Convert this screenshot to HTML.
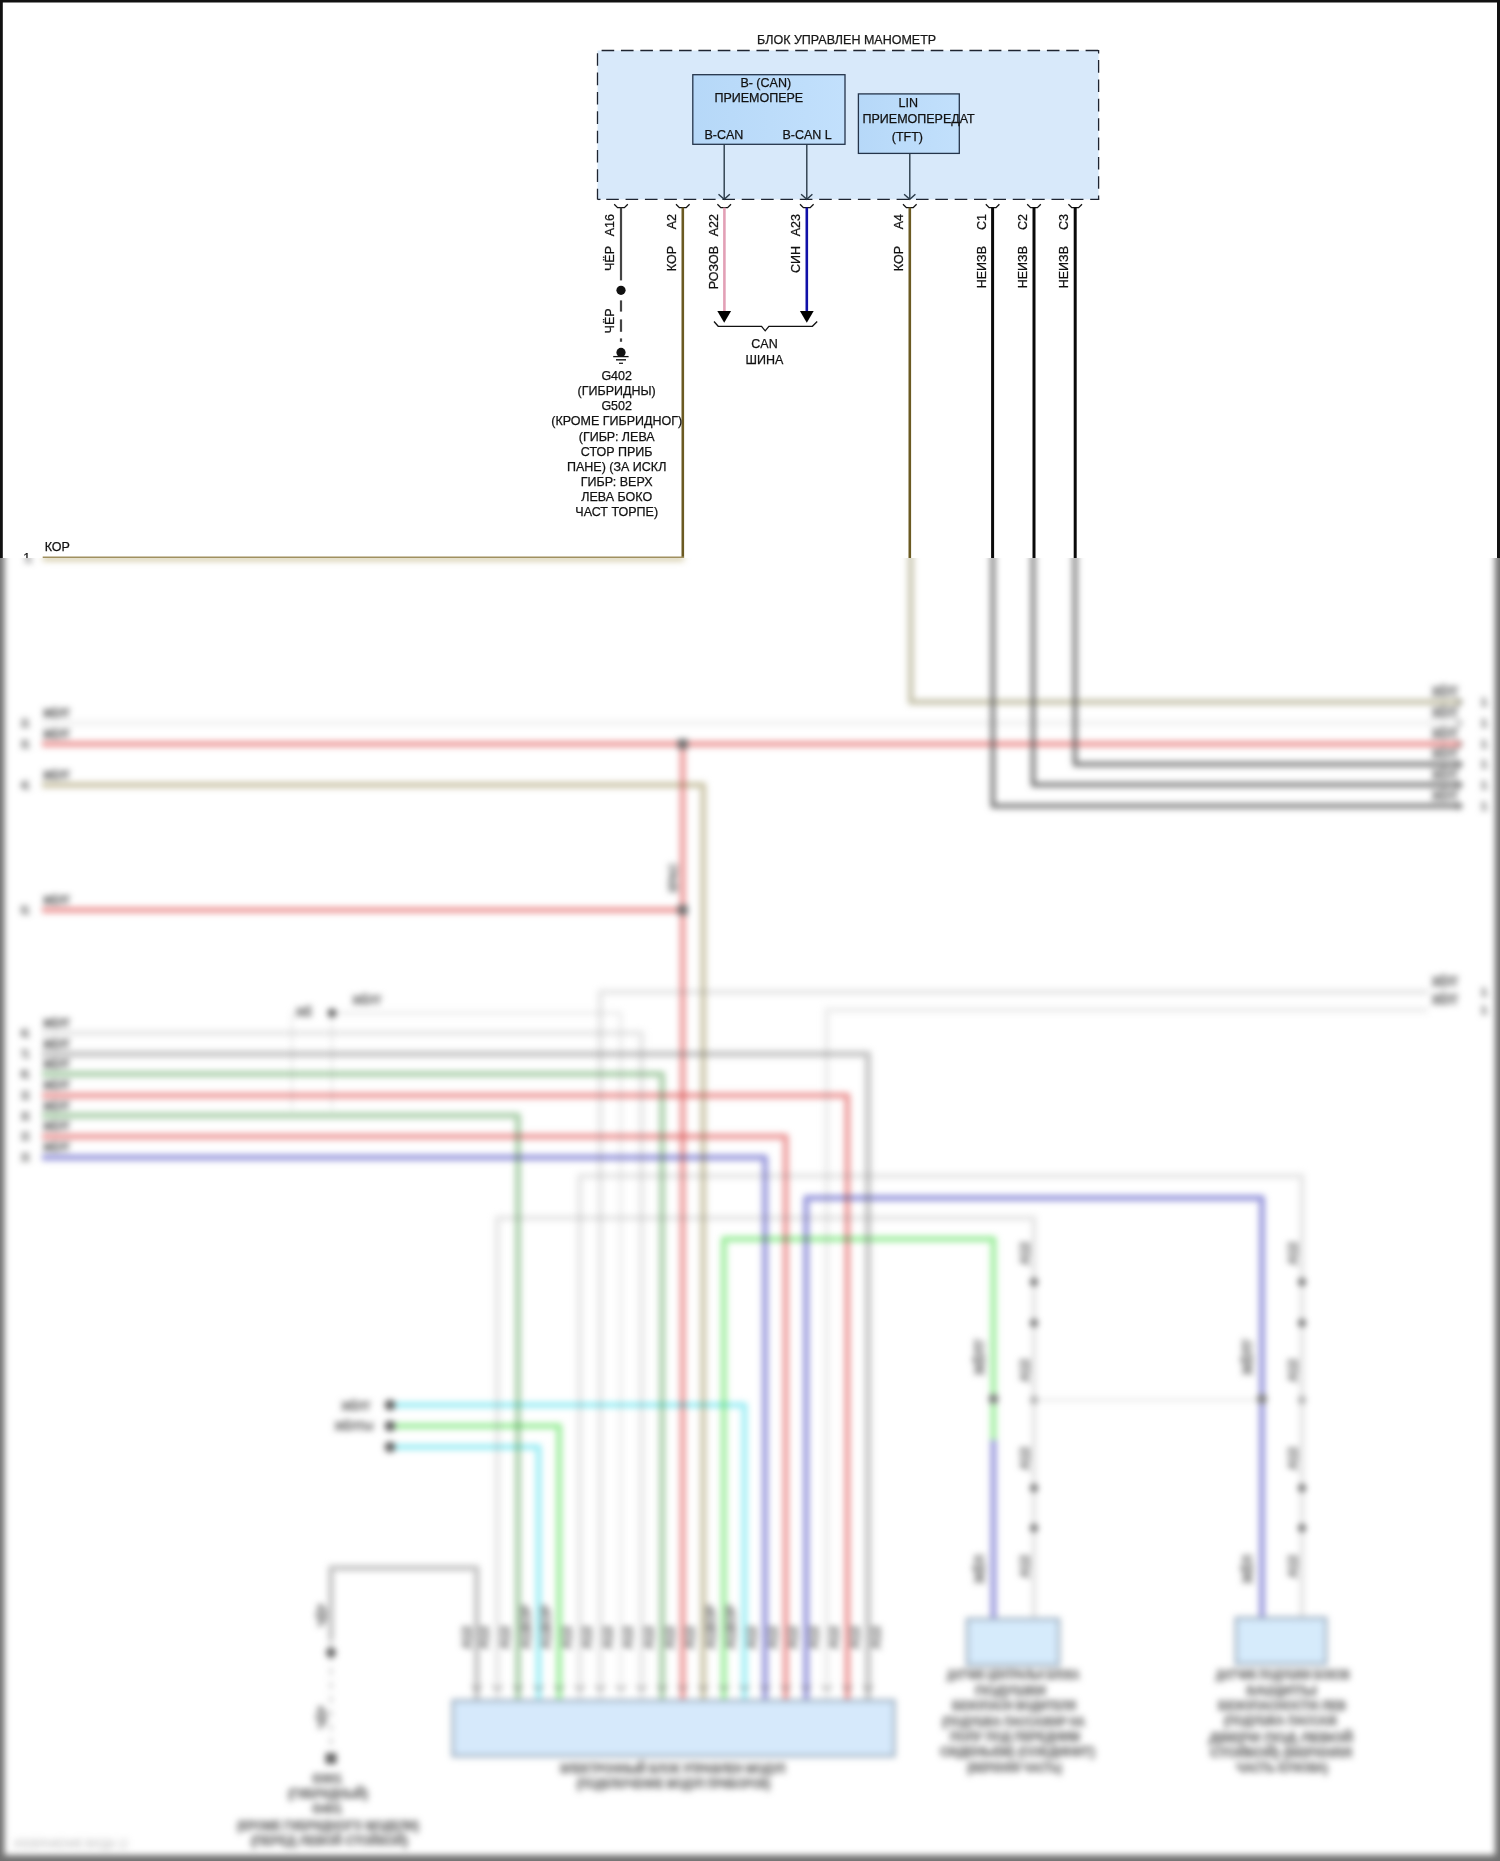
<!DOCTYPE html>
<html><head><meta charset="utf-8">
<style>
html,body{margin:0;padding:0;background:#fff;}
body{width:1500px;height:1861px;overflow:hidden;position:relative;font-family:"Liberation Sans",sans-serif;}
svg{position:absolute;left:0;top:0;will-change:transform;}
#bot{position:absolute;left:0;top:558px;width:1500px;height:1303px;overflow:hidden;}
#botin{position:absolute;left:-40px;top:-598px;width:1580px;height:1941px;filter:blur(3.2px);}
#wash{position:absolute;left:0;top:0;width:1500px;height:1303px;background:rgba(255,255,255,0.3);}
</style></head><body>
<svg class="tp" width="1500" height="558" viewBox="0 0 1500 558" style="font-family:'Liberation Sans',sans-serif;font-size:12.5px;">
<style>.tp text{stroke:#111;stroke-width:0.25px;}</style>
<defs>
<linearGradient id="gbox" x1="0" y1="0" x2="1" y2="0">
<stop offset="0" stop-color="#b6d8f8"/><stop offset="1" stop-color="#c2e0fc"/>
</linearGradient>
</defs>
<!-- borders -->
<rect x="0" y="0" width="1500" height="2.5" fill="#111"/>
<rect x="0" y="0" width="2.8" height="558" fill="#111"/>
<rect x="1497" y="0" width="3" height="558" fill="#111"/>

<text x="757" y="44" fill="#1a1a1a">БЛОК УПРАВЛЕН МАНОМЕТР</text>
<!-- dashed module box -->
<rect x="597.5" y="50.5" width="501.1" height="148.9" fill="#d8e9fa"/>
<g stroke="#1e2430" stroke-width="1.3" stroke-dasharray="12.6 6.76" fill="none">
<line x1="601.6" y1="50.5" x2="1099.2" y2="50.5"/>
<line x1="597.5" y1="53.2" x2="597.5" y2="199.4"/>
<line x1="606.2" y1="199.4" x2="1099.2" y2="199.4"/>
<line x1="1098.6" y1="60.1" x2="1098.6" y2="199.4"/>
</g>
<line x1="1098.6" y1="50" x2="1098.6" y2="53.5" stroke="#1e2430" stroke-width="1.3"/>
<line x1="597.5" y1="199.4" x2="600.5" y2="199.4" stroke="#1e2430" stroke-width="1.3"/>
<!-- CAN box -->
<rect x="692.8" y="74.7" width="152.2" height="69.6" fill="url(#gbox)" stroke="#24344a" stroke-width="1.3"/>
<text x="740.4" y="87.1" fill="#111">B- (CAN)</text>
<text x="714.4" y="102.4" fill="#111">ПРИЕМОПЕРЕ</text>
<text x="704.4" y="138.8" fill="#111">B-CAN</text>
<text x="782.4" y="138.8" fill="#111">B-CAN L</text>
<!-- LIN box -->
<rect x="858.4" y="93.9" width="100.9" height="59.5" fill="url(#gbox)" stroke="#24344a" stroke-width="1.3"/>
<text x="898.5" y="107" fill="#111">LIN</text>
<text x="862.5" y="123.2" fill="#111">ПРИЕМОПЕРЕДАТ</text>
<text x="891.8" y="140.6" fill="#111">(TFT)</text>
<!-- internal arrows -->
<g stroke="#2a3a48" stroke-width="1.4" fill="none">
<line x1="724.2" y1="144.3" x2="724.2" y2="199"/>
<polyline points="718.5,194.2 724.2,199.3 729.8,194.2"/>
<line x1="806.8" y1="144.3" x2="806.8" y2="199"/>
<polyline points="801.1,194.2 806.8,199.3 812.4,194.2"/>
<line x1="909.8" y1="153.4" x2="909.8" y2="199"/>
<polyline points="904.1,194.2 909.8,199.3 915.4,194.2"/>
</g>
<!-- cups -->
<g stroke="#111" stroke-width="1.3" fill="none">
<path d="M614.2 204.2 L617.6 207.6 L624.4 207.6 L627.8 204.2"/>
<path d="M676 204.2 L679.4 207.6 L686.2 207.6 L689.6 204.2"/>
<path d="M717.4 204.2 L720.8 207.6 L727.6 207.6 L731 204.2"/>
<path d="M800 204.2 L803.4 207.6 L810.2 207.6 L813.6 204.2"/>
<path d="M903 204.2 L906.4 207.6 L913.2 207.6 L916.6 204.2"/>
<path d="M985.8 204.2 L989.2 207.6 L996 207.6 L999.4 204.2"/>
<path d="M1027.2 204.2 L1030.6 207.6 L1037.4 207.6 L1040.8 204.2"/>
<path d="M1068.4 204.2 L1071.8 207.6 L1078.6 207.6 L1082 204.2"/>
</g>
<!-- wires -->
<line x1="621" y1="207.6" x2="621" y2="280.4" stroke="#444" stroke-width="2.2"/>
<circle cx="621" cy="290.3" r="4.6" fill="#111"/>
<g stroke="#444" stroke-width="2.2">
<line x1="621" y1="300.4" x2="621" y2="311.6"/>
<line x1="621" y1="319.4" x2="621" y2="331.8"/>
<line x1="621" y1="338.4" x2="621" y2="341.8"/>
</g>
<circle cx="621" cy="352.4" r="4.6" fill="#111"/>
<line x1="613.2" y1="356.6" x2="628.6" y2="356.6" stroke="#111" stroke-width="1.3"/>
<line x1="616" y1="359.8" x2="626" y2="359.8" stroke="#222" stroke-width="1.5"/>
<line x1="619" y1="363.3" x2="623" y2="363.3" stroke="#222" stroke-width="1.3"/>
<line x1="682.8" y1="207.6" x2="682.8" y2="558" stroke="#6b5a22" stroke-width="2.6"/>
<line x1="724.4" y1="207.6" x2="724.4" y2="312" stroke="#e2a0b6" stroke-width="2.6"/>
<line x1="806.8" y1="207.6" x2="806.8" y2="312" stroke="#1010a8" stroke-width="2.6"/>
<line x1="909.8" y1="207.6" x2="909.8" y2="558" stroke="#6b5a22" stroke-width="2.6"/>
<line x1="992.6" y1="207.6" x2="992.6" y2="558" stroke="#0a0a0a" stroke-width="3"/>
<line x1="1034" y1="207.6" x2="1034" y2="558" stroke="#0a0a0a" stroke-width="3"/>
<line x1="1075.2" y1="207.6" x2="1075.2" y2="558" stroke="#0a0a0a" stroke-width="3"/>
<polygon points="717.3,311 731.1,311 724.2,322.8" fill="#000"/>
<polygon points="799.9,311 813.7,311 806.8,322.8" fill="#000"/>
<path d="M714 321.5 L718.2 326.3 L761.5 326.3 L765.2 330.8 L768.9 326.3 L812.4 326.3 L817.2 321.5" stroke="#111" stroke-width="1.3" fill="none"/>
<text x="764.5" y="348.4" text-anchor="middle" fill="#111">CAN</text>
<text x="764.5" y="363.6" text-anchor="middle" fill="#111">ШИНА</text>
<!-- rotated labels -->
<g fill="#111" text-anchor="end">
<text transform="translate(614,214) rotate(-90)">A16</text>
<text transform="translate(614,246) rotate(-90)">ЧЁР</text>
<text transform="translate(614,308.4) rotate(-90)">ЧЁР</text>
<text transform="translate(676.4,214) rotate(-90)">A2</text>
<text transform="translate(676.4,246) rotate(-90)">КОР</text>
<text transform="translate(718,214) rotate(-90)">A22</text>
<text transform="translate(718,246) rotate(-90)">РОЗОВ</text>
<text transform="translate(800.4,214) rotate(-90)">A23</text>
<text transform="translate(800.4,246) rotate(-90)">СИН</text>
<text transform="translate(903.4,214) rotate(-90)">A4</text>
<text transform="translate(903.4,246) rotate(-90)">КОР</text>
<text transform="translate(986.2,214) rotate(-90)">C1</text>
<text transform="translate(986.2,246) rotate(-90)">НЕИЗВ</text>
<text transform="translate(1027.2,214) rotate(-90)">C2</text>
<text transform="translate(1027.2,246) rotate(-90)">НЕИЗВ</text>
<text transform="translate(1068,214) rotate(-90)">C3</text>
<text transform="translate(1068,246) rotate(-90)">НЕИЗВ</text>
</g>
<!-- ground label -->
<g fill="#111" text-anchor="middle">
<text x="616.7" y="380">G402</text>
<text x="616.7" y="395.1">(ГИБРИДНЫ)</text>
<text x="616.7" y="410.3">G502</text>
<text x="616.7" y="425.4">(КРОМЕ ГИБРИДНОГ)</text>
<text x="616.7" y="440.6">(ГИБР: ЛЕВА</text>
<text x="616.7" y="455.7">СТОР ПРИБ</text>
<text x="616.7" y="470.8">ПАНЕ) (ЗА ИСКЛ</text>
<text x="616.7" y="486">ГИБР: ВЕРХ</text>
<text x="616.7" y="501.1">ЛЕВА БОКО</text>
<text x="616.7" y="516.3">ЧАСТ ТОРПЕ)</text>
</g>
<text x="44.7" y="551.3" fill="#111">КОР</text>
<text x="23.2" y="562" fill="#111">1</text>
<line x1="42.7" y1="557.3" x2="684" y2="557.3" stroke="#a09060" stroke-width="1.6"/>
</svg>
<div id="bot"><div id="botin">
<svg width="1580" height="1941" viewBox="-40 -40 1580 1941" style="font-family:'Liberation Sans',sans-serif;font-size:12.5px;">

<rect x="-40.0" y="530.0" width="44.5" height="1400.0" fill="#333"/>
<rect x="1495.0" y="530.0" width="45.0" height="1400.0" fill="#333"/>
<rect x="-40.0" y="1855.0" width="1600.0" height="60.0" fill="#333"/>
<path d="M42.7 558.5 L684.0 558.5" stroke="#b0a060" stroke-width="4" fill="none" stroke-linejoin="round" style="mix-blend-mode:multiply"/>
<path d="M42.0 723.0 L1462.0 723.0" stroke="#eeeeee" stroke-width="6" fill="none" stroke-linejoin="round" style="mix-blend-mode:multiply"/>
<path d="M42.0 744.0 L1462.0 744.0" stroke="#e67272" stroke-width="6" fill="none" stroke-linejoin="round" style="mix-blend-mode:multiply"/>
<path d="M42.0 785.0 L703.3 785.0 L703.3 1700.0" stroke="#b8b088" stroke-width="6" fill="none" stroke-linejoin="round" style="mix-blend-mode:multiply"/>
<path d="M42.0 910.0 L682.7 910.0" stroke="#e67272" stroke-width="6" fill="none" stroke-linejoin="round" style="mix-blend-mode:multiply"/>
<path d="M682.7 744.0 L682.7 1700.0" stroke="#e67272" stroke-width="6" fill="none" stroke-linejoin="round" style="mix-blend-mode:multiply"/>
<rect x="677.7" y="739.0" width="10.0" height="10.0" fill="#333"/>
<rect x="677.7" y="905.0" width="10.0" height="10.0" fill="#333"/>
<path d="M42.0 1033.0 L641.5 1033.0 L641.5 1700.0" stroke="#dfdfdf" stroke-width="6" fill="none" stroke-linejoin="round" style="mix-blend-mode:multiply"/>
<path d="M42.0 1054.0 L868.0 1054.0 L868.0 1700.0" stroke="#b0b0b0" stroke-width="6.5" fill="none" stroke-linejoin="round" style="mix-blend-mode:multiply"/>
<path d="M42.0 1074.0 L662.1 1074.0 L662.1 1700.0" stroke="#89bc89" stroke-width="6" fill="none" stroke-linejoin="round" style="mix-blend-mode:multiply"/>
<path d="M42.0 1095.5 L847.4 1095.5 L847.4 1700.0" stroke="#e67272" stroke-width="6" fill="none" stroke-linejoin="round" style="mix-blend-mode:multiply"/>
<path d="M42.0 1115.5 L518.0 1115.5 L518.0 1700.0" stroke="#89bc89" stroke-width="6" fill="none" stroke-linejoin="round" style="mix-blend-mode:multiply"/>
<path d="M42.0 1136.5 L785.7 1136.5 L785.7 1700.0" stroke="#e67272" stroke-width="6" fill="none" stroke-linejoin="round" style="mix-blend-mode:multiply"/>
<path d="M42.0 1157.5 L765.1 1157.5 L765.1 1700.0" stroke="#6f6fce" stroke-width="6" fill="none" stroke-linejoin="round" style="mix-blend-mode:multiply"/>
<path d="M910.8 540.0 L910.8 702.0 L1462.0 702.0" stroke="#b4b090" stroke-width="6" fill="none" stroke-linejoin="round" style="mix-blend-mode:multiply"/>
<path d="M1075.0 540.0 L1075.0 764.3 L1462.0 764.3" stroke="#4a4a4a" stroke-width="5" fill="none" stroke-linejoin="round" style="mix-blend-mode:multiply"/>
<path d="M1033.2 540.0 L1033.2 784.8 L1462.0 784.8" stroke="#4a4a4a" stroke-width="5" fill="none" stroke-linejoin="round" style="mix-blend-mode:multiply"/>
<path d="M992.9 540.0 L992.9 806.0 L1462.0 806.0" stroke="#4a4a4a" stroke-width="5" fill="none" stroke-linejoin="round" style="mix-blend-mode:multiply"/>
<path d="M1428.0 992.0 L600.3 992.0 L600.3 1700.0" stroke="#dfdfdf" stroke-width="6" fill="none" stroke-linejoin="round" style="mix-blend-mode:multiply"/>
<path d="M1428.0 1010.0 L826.8 1010.0 L826.8 1700.0" stroke="#e8e8e8" stroke-width="6" fill="none" stroke-linejoin="round" style="mix-blend-mode:multiply"/>
<circle cx="332.0" cy="1013.0" r="4.5" fill="#222"/>
<path d="M332.0 1013.0 L620.9 1013.0 L620.9 1700.0" stroke="#dfdfdf" stroke-width="3" fill="none" stroke-linejoin="round" style="mix-blend-mode:multiply"/>
<path d="M292.0 1013.0 L292.0 1110.0" stroke="#dfdfdf" stroke-width="2" fill="none" stroke-linejoin="round" style="mix-blend-mode:multiply"/>
<path d="M332.0 1013.0 L332.0 1110.0" stroke="#dfdfdf" stroke-width="2" fill="none" stroke-linejoin="round" style="mix-blend-mode:multiply"/>
<path d="M292.0 1013.0 L312.0 1013.0" stroke="#dfdfdf" stroke-width="2" fill="none" stroke-linejoin="round" style="mix-blend-mode:multiply"/>
<path d="M579.8 1700.0 L579.8 1176.0 L1302.0 1176.0 L1302.0 1618.0" stroke="#dfdfdf" stroke-width="6" fill="none" stroke-linejoin="round" style="mix-blend-mode:multiply"/>
<path d="M806.2 1700.0 L806.2 1198.0 L1262.0 1198.0 L1262.0 1618.0" stroke="#6f6fce" stroke-width="6" fill="none" stroke-linejoin="round" style="mix-blend-mode:multiply"/>
<path d="M497.4 1700.0 L497.4 1218.0 L1034.0 1218.0 L1034.0 1618.0" stroke="#dfdfdf" stroke-width="6" fill="none" stroke-linejoin="round" style="mix-blend-mode:multiply"/>
<path d="M723.9 1700.0 L723.9 1239.0 L993.5 1239.0 L993.5 1440.0" stroke="#78e778" stroke-width="6" fill="none" stroke-linejoin="round" style="mix-blend-mode:multiply"/>
<path d="M993.5 1440.0 L993.5 1618.0" stroke="#6f6fce" stroke-width="6" fill="none" stroke-linejoin="round" style="mix-blend-mode:multiply"/>
<path d="M1034.0 1400.0 L1262.0 1400.0" stroke="#dfdfdf" stroke-width="3" fill="none" stroke-linejoin="round" style="mix-blend-mode:multiply"/>
<path d="M390.0 1405.0 L744.5 1405.0 L744.5 1700.0" stroke="#78e7f0" stroke-width="6" fill="none" stroke-linejoin="round" style="mix-blend-mode:multiply"/>
<path d="M390.0 1426.0 L559.2 1426.0 L559.2 1700.0" stroke="#78e778" stroke-width="6" fill="none" stroke-linejoin="round" style="mix-blend-mode:multiply"/>
<path d="M390.0 1447.0 L538.6 1447.0 L538.6 1700.0" stroke="#78e7f0" stroke-width="6" fill="none" stroke-linejoin="round" style="mix-blend-mode:multiply"/>
<circle cx="390.0" cy="1405.0" r="5.5" fill="#222"/>
<circle cx="390.0" cy="1426.0" r="5.5" fill="#222"/>
<circle cx="390.0" cy="1447.0" r="5.5" fill="#222"/>
<path d="M331.0 1640.0 L331.0 1568.0 L476.8 1568.0 L476.8 1700.0" stroke="#b0b0b0" stroke-width="6" fill="none" stroke-linejoin="round" style="mix-blend-mode:multiply"/>
<path d="M331.0 1640.0 L331.0 1750.0" stroke="#b0b0b0" stroke-width="2.5" fill="none" stroke-linejoin="round" style="mix-blend-mode:multiply" stroke-dasharray="7 7"/>
<circle cx="331.0" cy="1652.6" r="5" fill="#222"/>
<rect x="325.5" y="1753.0" width="11.0" height="11.0" fill="#222"/>
<text x="21.0" y="727.0" textLength="8.5" lengthAdjust="spacingAndGlyphs" font-size="10.5" fill="#000" stroke="#000" stroke-width="0.6">21</text>
<text x="43.0" y="717.0" textLength="27.0" lengthAdjust="spacingAndGlyphs" font-size="10.5" fill="#000" stroke="#000" stroke-width="0.7">ЖЁЛТ</text>
<text x="21.0" y="748.0" textLength="8.5" lengthAdjust="spacingAndGlyphs" font-size="10.5" fill="#000" stroke="#000" stroke-width="0.6">31</text>
<text x="43.0" y="738.0" textLength="27.0" lengthAdjust="spacingAndGlyphs" font-size="10.5" fill="#000" stroke="#000" stroke-width="0.7">ЖЁЛТ</text>
<text x="21.0" y="789.0" textLength="8.5" lengthAdjust="spacingAndGlyphs" font-size="10.5" fill="#000" stroke="#000" stroke-width="0.6">41</text>
<text x="43.0" y="779.0" textLength="27.0" lengthAdjust="spacingAndGlyphs" font-size="10.5" fill="#000" stroke="#000" stroke-width="0.7">ЖЁЛТ</text>
<text x="21.0" y="914.0" textLength="8.5" lengthAdjust="spacingAndGlyphs" font-size="10.5" fill="#000" stroke="#000" stroke-width="0.6">51</text>
<text x="43.0" y="904.0" textLength="27.0" lengthAdjust="spacingAndGlyphs" font-size="10.5" fill="#000" stroke="#000" stroke-width="0.7">ЖЁЛТ</text>
<text x="21.0" y="1037.0" textLength="8.5" lengthAdjust="spacingAndGlyphs" font-size="10.5" fill="#000" stroke="#000" stroke-width="0.6">61</text>
<text x="43.0" y="1027.0" textLength="27.0" lengthAdjust="spacingAndGlyphs" font-size="10.5" fill="#000" stroke="#000" stroke-width="0.7">ЖЁЛТ</text>
<text x="21.0" y="1058.0" textLength="8.5" lengthAdjust="spacingAndGlyphs" font-size="10.5" fill="#000" stroke="#000" stroke-width="0.6">71</text>
<text x="43.0" y="1048.0" textLength="27.0" lengthAdjust="spacingAndGlyphs" font-size="10.5" fill="#000" stroke="#000" stroke-width="0.7">ЖЁЛТ</text>
<text x="21.0" y="1078.0" textLength="8.5" lengthAdjust="spacingAndGlyphs" font-size="10.5" fill="#000" stroke="#000" stroke-width="0.6">81</text>
<text x="43.0" y="1068.0" textLength="27.0" lengthAdjust="spacingAndGlyphs" font-size="10.5" fill="#000" stroke="#000" stroke-width="0.7">ЖЁЛТ</text>
<text x="21.0" y="1099.0" textLength="8.5" lengthAdjust="spacingAndGlyphs" font-size="10.5" fill="#000" stroke="#000" stroke-width="0.6">111</text>
<text x="43.0" y="1089.0" textLength="27.0" lengthAdjust="spacingAndGlyphs" font-size="10.5" fill="#000" stroke="#000" stroke-width="0.7">ЖЁЛТ</text>
<text x="21.0" y="1120.0" textLength="8.5" lengthAdjust="spacingAndGlyphs" font-size="10.5" fill="#000" stroke="#000" stroke-width="0.6">101</text>
<text x="43.0" y="1110.0" textLength="27.0" lengthAdjust="spacingAndGlyphs" font-size="10.5" fill="#000" stroke="#000" stroke-width="0.7">ЖЁЛТ</text>
<text x="21.0" y="1140.0" textLength="8.5" lengthAdjust="spacingAndGlyphs" font-size="10.5" fill="#000" stroke="#000" stroke-width="0.6">121</text>
<text x="43.0" y="1130.0" textLength="27.0" lengthAdjust="spacingAndGlyphs" font-size="10.5" fill="#000" stroke="#000" stroke-width="0.7">ЖЁЛТ</text>
<text x="21.0" y="1161.0" textLength="8.5" lengthAdjust="spacingAndGlyphs" font-size="10.5" fill="#000" stroke="#000" stroke-width="0.6">131</text>
<text x="43.0" y="1151.0" textLength="27.0" lengthAdjust="spacingAndGlyphs" font-size="10.5" fill="#000" stroke="#000" stroke-width="0.7">ЖЁЛТ</text>
<text x="24.7" y="562.0" text-anchor="start" font-size="12.5" fill="#666" font-weight="bold" stroke="#666" stroke-width="1.2">1</text>
<text x="1432.0" y="696.0" textLength="26.0" lengthAdjust="spacingAndGlyphs" font-size="12" fill="#666" font-weight="bold" stroke="#666" stroke-width="1.3">ЖЁЛТ</text>
<text x="1484.0" y="706.0" text-anchor="middle" font-size="11" fill="#666" font-weight="bold" stroke="#666" stroke-width="1.2">1</text>
<path d="M1456.0 698.0 L1462.0 702.0 L1456.0 706.0" stroke="#555" stroke-width="1.5" fill="none" stroke-linejoin="round" style="mix-blend-mode:multiply"/>
<text x="1432.0" y="717.0" textLength="26.0" lengthAdjust="spacingAndGlyphs" font-size="12" fill="#666" font-weight="bold" stroke="#666" stroke-width="1.3">ЖЁЛТ</text>
<text x="1484.0" y="727.0" text-anchor="middle" font-size="11" fill="#666" font-weight="bold" stroke="#666" stroke-width="1.2">1</text>
<path d="M1456.0 719.0 L1462.0 723.0 L1456.0 727.0" stroke="#555" stroke-width="1.5" fill="none" stroke-linejoin="round" style="mix-blend-mode:multiply"/>
<text x="1432.0" y="738.0" textLength="26.0" lengthAdjust="spacingAndGlyphs" font-size="12" fill="#666" font-weight="bold" stroke="#666" stroke-width="1.3">ЖЁЛТ</text>
<text x="1484.0" y="748.0" text-anchor="middle" font-size="11" fill="#666" font-weight="bold" stroke="#666" stroke-width="1.2">1</text>
<path d="M1456.0 740.0 L1462.0 744.0 L1456.0 748.0" stroke="#555" stroke-width="1.5" fill="none" stroke-linejoin="round" style="mix-blend-mode:multiply"/>
<text x="1432.0" y="758.3" textLength="26.0" lengthAdjust="spacingAndGlyphs" font-size="12" fill="#666" font-weight="bold" stroke="#666" stroke-width="1.3">ЖЁЛТ</text>
<text x="1484.0" y="768.3" text-anchor="middle" font-size="11" fill="#666" font-weight="bold" stroke="#666" stroke-width="1.2">1</text>
<path d="M1456.0 760.3 L1462.0 764.3 L1456.0 768.3" stroke="#555" stroke-width="1.5" fill="none" stroke-linejoin="round" style="mix-blend-mode:multiply"/>
<text x="1432.0" y="778.8" textLength="26.0" lengthAdjust="spacingAndGlyphs" font-size="12" fill="#666" font-weight="bold" stroke="#666" stroke-width="1.3">ЖЁЛТ</text>
<text x="1484.0" y="788.8" text-anchor="middle" font-size="11" fill="#666" font-weight="bold" stroke="#666" stroke-width="1.2">1</text>
<path d="M1456.0 780.8 L1462.0 784.8 L1456.0 788.8" stroke="#555" stroke-width="1.5" fill="none" stroke-linejoin="round" style="mix-blend-mode:multiply"/>
<text x="1432.0" y="800.0" textLength="26.0" lengthAdjust="spacingAndGlyphs" font-size="12" fill="#666" font-weight="bold" stroke="#666" stroke-width="1.3">ЖЁЛТ</text>
<text x="1484.0" y="810.0" text-anchor="middle" font-size="11" fill="#666" font-weight="bold" stroke="#666" stroke-width="1.2">1</text>
<path d="M1456.0 802.0 L1462.0 806.0 L1456.0 810.0" stroke="#555" stroke-width="1.5" fill="none" stroke-linejoin="round" style="mix-blend-mode:multiply"/>
<text x="1432.0" y="986.0" textLength="26.0" lengthAdjust="spacingAndGlyphs" font-size="12" fill="#666" font-weight="bold" stroke="#666" stroke-width="1.3">ЖЁЛТ</text>
<text x="1484.0" y="996.0" text-anchor="middle" font-size="11" fill="#666" font-weight="bold" stroke="#666" stroke-width="1.2">1</text>
<text x="1432.0" y="1004.0" textLength="26.0" lengthAdjust="spacingAndGlyphs" font-size="12" fill="#666" font-weight="bold" stroke="#666" stroke-width="1.3">ЖЁЛТ</text>
<text x="1484.0" y="1014.0" text-anchor="middle" font-size="11" fill="#666" font-weight="bold" stroke="#666" stroke-width="1.2">1</text>
<text x="367.0" y="1004.0" text-anchor="middle" font-size="10" fill="#666" font-weight="bold" stroke="#666" stroke-width="1.2">ЖЁЛТ</text>
<text x="304.0" y="1016.0" text-anchor="middle" font-size="10" fill="#888" font-weight="bold" stroke="#666" stroke-width="1.2">ЖЁ</text>
<text x="356.0" y="1410.0" text-anchor="middle" font-size="10" fill="#666" font-weight="bold" stroke="#666" stroke-width="1.2">ЖЁЛТ</text>
<text x="354.0" y="1430.0" text-anchor="middle" font-size="10" fill="#666" font-weight="bold" stroke="#666" stroke-width="1.2">ЖЁЛТЫ</text>
<text transform="translate(677.0,878.0) rotate(-90)" text-anchor="middle" font-size="11" fill="#666" font-weight="bold" stroke="#666" stroke-width="1.2">КРАС</text>
<text transform="translate(488.3,1626.0) rotate(-90)" text-anchor="end" font-size="12.5" fill="#666" font-weight="bold" stroke="#666" stroke-width="1.2">A12</text>
<text transform="translate(508.9,1626.0) rotate(-90)" text-anchor="end" font-size="12.5" fill="#666" font-weight="bold" stroke="#666" stroke-width="1.2">A12</text>
<text transform="translate(529.5,1626.0) rotate(-90)" text-anchor="end" font-size="12.5" fill="#666" font-weight="bold" stroke="#666" stroke-width="1.2">A12</text>
<text transform="translate(550.1,1626.0) rotate(-90)" text-anchor="end" font-size="12.5" fill="#666" font-weight="bold" stroke="#666" stroke-width="1.2">A12</text>
<text transform="translate(570.7,1626.0) rotate(-90)" text-anchor="end" font-size="12.5" fill="#666" font-weight="bold" stroke="#666" stroke-width="1.2">A12</text>
<text transform="translate(591.2,1626.0) rotate(-90)" text-anchor="end" font-size="12.5" fill="#666" font-weight="bold" stroke="#666" stroke-width="1.2">A12</text>
<text transform="translate(611.8,1626.0) rotate(-90)" text-anchor="end" font-size="12.5" fill="#666" font-weight="bold" stroke="#666" stroke-width="1.2">A12</text>
<text transform="translate(632.4,1626.0) rotate(-90)" text-anchor="end" font-size="12.5" fill="#666" font-weight="bold" stroke="#666" stroke-width="1.2">A12</text>
<text transform="translate(653.0,1626.0) rotate(-90)" text-anchor="end" font-size="12.5" fill="#666" font-weight="bold" stroke="#666" stroke-width="1.2">A12</text>
<text transform="translate(673.6,1626.0) rotate(-90)" text-anchor="end" font-size="12.5" fill="#666" font-weight="bold" stroke="#666" stroke-width="1.2">A12</text>
<text transform="translate(694.2,1626.0) rotate(-90)" text-anchor="end" font-size="12.5" fill="#666" font-weight="bold" stroke="#666" stroke-width="1.2">A12</text>
<text transform="translate(714.8,1626.0) rotate(-90)" text-anchor="end" font-size="12.5" fill="#666" font-weight="bold" stroke="#666" stroke-width="1.2">A12</text>
<text transform="translate(735.4,1626.0) rotate(-90)" text-anchor="end" font-size="12.5" fill="#666" font-weight="bold" stroke="#666" stroke-width="1.2">A12</text>
<text transform="translate(756.0,1626.0) rotate(-90)" text-anchor="end" font-size="12.5" fill="#666" font-weight="bold" stroke="#666" stroke-width="1.2">A12</text>
<text transform="translate(776.6,1626.0) rotate(-90)" text-anchor="end" font-size="12.5" fill="#666" font-weight="bold" stroke="#666" stroke-width="1.2">A12</text>
<text transform="translate(797.2,1626.0) rotate(-90)" text-anchor="end" font-size="12.5" fill="#666" font-weight="bold" stroke="#666" stroke-width="1.2">A12</text>
<text transform="translate(817.7,1626.0) rotate(-90)" text-anchor="end" font-size="12.5" fill="#666" font-weight="bold" stroke="#666" stroke-width="1.2">A12</text>
<text transform="translate(838.3,1626.0) rotate(-90)" text-anchor="end" font-size="12.5" fill="#666" font-weight="bold" stroke="#666" stroke-width="1.2">A12</text>
<text transform="translate(858.9,1626.0) rotate(-90)" text-anchor="end" font-size="12.5" fill="#666" font-weight="bold" stroke="#666" stroke-width="1.2">A12</text>
<text transform="translate(879.5,1626.0) rotate(-90)" text-anchor="end" font-size="12.5" fill="#666" font-weight="bold" stroke="#666" stroke-width="1.2">A12</text>
<text transform="translate(471.0,1626.0) rotate(-90)" text-anchor="end" font-size="12.5" fill="#666" font-weight="bold" stroke="#666" stroke-width="1.2">A12</text>
<text transform="translate(529.5,1605.0) rotate(-90)" text-anchor="end" font-size="12.5" fill="#666" font-weight="bold" stroke="#666" stroke-width="1.2">КОР</text>
<text transform="translate(550.1,1605.0) rotate(-90)" text-anchor="end" font-size="12.5" fill="#666" font-weight="bold" stroke="#666" stroke-width="1.2">КОР</text>
<text transform="translate(714.8,1605.0) rotate(-90)" text-anchor="end" font-size="12.5" fill="#666" font-weight="bold" stroke="#666" stroke-width="1.2">КОР</text>
<text transform="translate(735.4,1605.0) rotate(-90)" text-anchor="end" font-size="12.5" fill="#666" font-weight="bold" stroke="#666" stroke-width="1.2">КОР</text>
<path d="M471.8 1685.0 L474.8 1689.0 L478.8 1689.0 L481.8 1685.0" stroke="#666" stroke-width="1.5" fill="none" stroke-linejoin="round" style="mix-blend-mode:multiply"/>
<path d="M492.4 1685.0 L495.4 1689.0 L499.4 1689.0 L502.4 1685.0" stroke="#666" stroke-width="1.5" fill="none" stroke-linejoin="round" style="mix-blend-mode:multiply"/>
<path d="M513.0 1685.0 L516.0 1689.0 L520.0 1689.0 L523.0 1685.0" stroke="#666" stroke-width="1.5" fill="none" stroke-linejoin="round" style="mix-blend-mode:multiply"/>
<path d="M533.6 1685.0 L536.6 1689.0 L540.6 1689.0 L543.6 1685.0" stroke="#666" stroke-width="1.5" fill="none" stroke-linejoin="round" style="mix-blend-mode:multiply"/>
<path d="M554.2 1685.0 L557.2 1689.0 L561.2 1689.0 L564.2 1685.0" stroke="#666" stroke-width="1.5" fill="none" stroke-linejoin="round" style="mix-blend-mode:multiply"/>
<path d="M574.8 1685.0 L577.8 1689.0 L581.8 1689.0 L584.8 1685.0" stroke="#666" stroke-width="1.5" fill="none" stroke-linejoin="round" style="mix-blend-mode:multiply"/>
<path d="M595.3 1685.0 L598.3 1689.0 L602.3 1689.0 L605.3 1685.0" stroke="#666" stroke-width="1.5" fill="none" stroke-linejoin="round" style="mix-blend-mode:multiply"/>
<path d="M615.9 1685.0 L618.9 1689.0 L622.9 1689.0 L625.9 1685.0" stroke="#666" stroke-width="1.5" fill="none" stroke-linejoin="round" style="mix-blend-mode:multiply"/>
<path d="M636.5 1685.0 L639.5 1689.0 L643.5 1689.0 L646.5 1685.0" stroke="#666" stroke-width="1.5" fill="none" stroke-linejoin="round" style="mix-blend-mode:multiply"/>
<path d="M657.1 1685.0 L660.1 1689.0 L664.1 1689.0 L667.1 1685.0" stroke="#666" stroke-width="1.5" fill="none" stroke-linejoin="round" style="mix-blend-mode:multiply"/>
<path d="M677.7 1685.0 L680.7 1689.0 L684.7 1689.0 L687.7 1685.0" stroke="#666" stroke-width="1.5" fill="none" stroke-linejoin="round" style="mix-blend-mode:multiply"/>
<path d="M698.3 1685.0 L701.3 1689.0 L705.3 1689.0 L708.3 1685.0" stroke="#666" stroke-width="1.5" fill="none" stroke-linejoin="round" style="mix-blend-mode:multiply"/>
<path d="M718.9 1685.0 L721.9 1689.0 L725.9 1689.0 L728.9 1685.0" stroke="#666" stroke-width="1.5" fill="none" stroke-linejoin="round" style="mix-blend-mode:multiply"/>
<path d="M739.5 1685.0 L742.5 1689.0 L746.5 1689.0 L749.5 1685.0" stroke="#666" stroke-width="1.5" fill="none" stroke-linejoin="round" style="mix-blend-mode:multiply"/>
<path d="M760.1 1685.0 L763.1 1689.0 L767.1 1689.0 L770.1 1685.0" stroke="#666" stroke-width="1.5" fill="none" stroke-linejoin="round" style="mix-blend-mode:multiply"/>
<path d="M780.7 1685.0 L783.7 1689.0 L787.7 1689.0 L790.7 1685.0" stroke="#666" stroke-width="1.5" fill="none" stroke-linejoin="round" style="mix-blend-mode:multiply"/>
<path d="M801.2 1685.0 L804.2 1689.0 L808.2 1689.0 L811.2 1685.0" stroke="#666" stroke-width="1.5" fill="none" stroke-linejoin="round" style="mix-blend-mode:multiply"/>
<path d="M821.8 1685.0 L824.8 1689.0 L828.8 1689.0 L831.8 1685.0" stroke="#666" stroke-width="1.5" fill="none" stroke-linejoin="round" style="mix-blend-mode:multiply"/>
<path d="M842.4 1685.0 L845.4 1689.0 L849.4 1689.0 L852.4 1685.0" stroke="#666" stroke-width="1.5" fill="none" stroke-linejoin="round" style="mix-blend-mode:multiply"/>
<path d="M863.0 1685.0 L866.0 1689.0 L870.0 1689.0 L873.0 1685.0" stroke="#666" stroke-width="1.5" fill="none" stroke-linejoin="round" style="mix-blend-mode:multiply"/>
<text transform="translate(326.0,1604.0) rotate(-90)" text-anchor="end" font-size="11" fill="#666" font-weight="bold" stroke="#666" stroke-width="1.2">ЧЁР</text>
<text transform="translate(326.0,1706.0) rotate(-90)" text-anchor="end" font-size="11" fill="#666" font-weight="bold" stroke="#666" stroke-width="1.2">ЧЁР</text>
<rect x="452.8" y="1700.5" width="441.5" height="55.5" fill="#c4e0fa" stroke="#7890a8" stroke-width="3"/>
<text x="559.4" y="1773.3" textLength="226.1" lengthAdjust="spacingAndGlyphs" font-size="12.5" fill="#666" font-weight="bold" stroke="#666" stroke-width="1.3">ЭЛЕКТРОННЫЙ БЛОК УПРАВЛЕН МОДУЛ</text>
<text x="576.5" y="1788.2" textLength="194.1" lengthAdjust="spacingAndGlyphs" font-size="12.5" fill="#666" font-weight="bold" stroke="#666" stroke-width="1.3">(ПОДКЛЮЧЕНИЕ МОДУЛ ПРИБОРОВ)</text>
<text x="312.0" y="1783.2" textLength="30.0" lengthAdjust="spacingAndGlyphs" font-size="12.5" fill="#666" font-weight="bold" stroke="#666" stroke-width="1.3">G301</text>
<text x="288.0" y="1798.2" textLength="80.0" lengthAdjust="spacingAndGlyphs" font-size="12.5" fill="#666" font-weight="bold" stroke="#666" stroke-width="1.3">(ГИБРИДНЫЙ)</text>
<text x="312.0" y="1813.2" textLength="30.0" lengthAdjust="spacingAndGlyphs" font-size="12.5" fill="#666" font-weight="bold" stroke="#666" stroke-width="1.3">G401</text>
<text x="237.0" y="1829.5" textLength="182.0" lengthAdjust="spacingAndGlyphs" font-size="12.5" fill="#666" font-weight="bold" stroke="#666" stroke-width="1.3">(КРОМЕ ГИБРИДНОГО МОДЕЛИ)</text>
<text x="250.7" y="1845.0" textLength="157.3" lengthAdjust="spacingAndGlyphs" font-size="12.5" fill="#666" font-weight="bold" stroke="#666" stroke-width="1.3">(ПЕРЕД ЛЕВОЙ СТОЙКОЙ)</text>
<text x="14.0" y="1848.0" textLength="114.0" lengthAdjust="spacingAndGlyphs" font-size="12" fill="#999">ИЗОБРАЖЕНИЕ ВХОДА 12</text>
<rect x="967.2" y="1619.0" width="91.6" height="46.2" fill="#c4e2fa" stroke="#7890a8" stroke-width="3"/>
<rect x="1236.0" y="1618.0" width="90.0" height="46.0" fill="#c4e2fa" stroke="#7890a8" stroke-width="3"/>
<text x="947.0" y="1679.4" textLength="132.5" lengthAdjust="spacingAndGlyphs" font-size="12.5" fill="#666" font-weight="bold" stroke="#666" stroke-width="1.3">ДАТЧИК ЦЕНТРАЛЬН БЛОКА</text>
<text x="975.0" y="1694.8" textLength="71.0" lengthAdjust="spacingAndGlyphs" font-size="12.5" fill="#666" font-weight="bold" stroke="#666" stroke-width="1.3">ПОДУШКИ</text>
<text x="952.0" y="1710.2" textLength="124.0" lengthAdjust="spacingAndGlyphs" font-size="12.5" fill="#666" font-weight="bold" stroke="#666" stroke-width="1.3">БЕЗОПАСН ВОДИТЕЛЯ</text>
<text x="942.0" y="1725.6" textLength="143.0" lengthAdjust="spacingAndGlyphs" font-size="12.5" fill="#666" font-weight="bold" stroke="#666" stroke-width="1.3">(ПОДУШКА ПАССАЖИР НА</text>
<text x="950.0" y="1741.0" textLength="130.0" lengthAdjust="spacingAndGlyphs" font-size="12.5" fill="#666" font-weight="bold" stroke="#666" stroke-width="1.3">ПОЛУ ПОД ПЕРЕДНИМ</text>
<text x="940.0" y="1756.4" textLength="155.0" lengthAdjust="spacingAndGlyphs" font-size="12.5" fill="#666" font-weight="bold" stroke="#666" stroke-width="1.3">СИДЕНЬЕМ) (СОЕДИНИТ)</text>
<text x="967.0" y="1771.8" textLength="95.0" lengthAdjust="spacingAndGlyphs" font-size="12.5" fill="#666" font-weight="bold" stroke="#666" stroke-width="1.3">(ВЕРХНЯЯ ЧАСТЬ)</text>
<text x="1215.9" y="1679.3" textLength="133.8" lengthAdjust="spacingAndGlyphs" font-size="12.5" fill="#666" font-weight="bold" stroke="#666" stroke-width="1.3">ДАТЧИК ПОДУШКИ БОКОВ</text>
<text x="1245.4" y="1695.2" textLength="71.4" lengthAdjust="spacingAndGlyphs" font-size="12.5" fill="#666" font-weight="bold" stroke="#666" stroke-width="1.3">ЗАЩИТЫ</text>
<text x="1218.0" y="1709.9" textLength="128.0" lengthAdjust="spacingAndGlyphs" font-size="12.5" fill="#666" font-weight="bold" stroke="#666" stroke-width="1.3">БЕЗОПАСНОСТИ ЛЕВ</text>
<text x="1223.8" y="1724.7" textLength="113.2" lengthAdjust="spacingAndGlyphs" font-size="12.5" fill="#666" font-weight="bold" stroke="#666" stroke-width="1.3">(ПОДУШКА ПАССАЖ</text>
<text x="1209.0" y="1741.7" textLength="144.0" lengthAdjust="spacingAndGlyphs" font-size="12.5" fill="#666" font-weight="bold" stroke="#666" stroke-width="1.3">ДВЕРИ ПОД ЛЕВОЙ</text>
<text x="1210.0" y="1756.5" textLength="142.0" lengthAdjust="spacingAndGlyphs" font-size="12.5" fill="#666" font-weight="bold" stroke="#666" stroke-width="1.3">СТОЙКОЙ) (ВЕРХНЯЯ</text>
<text x="1236.3" y="1772.3" textLength="91.7" lengthAdjust="spacingAndGlyphs" font-size="12.5" fill="#666" font-weight="bold" stroke="#666" stroke-width="1.3">ЧАСТЬ КУЗОВА)</text>
<circle cx="1034.0" cy="1282.0" r="4" fill="#333"/>
<circle cx="1034.0" cy="1323.0" r="4" fill="#333"/>
<circle cx="1034.0" cy="1488.0" r="4" fill="#333"/>
<circle cx="1034.0" cy="1528.0" r="4" fill="#333"/>
<text transform="translate(1029.0,1242.0) rotate(-90)" text-anchor="end" font-size="12.5" fill="#666" font-weight="bold" stroke="#666" stroke-width="1.2">A12</text>
<text transform="translate(1029.0,1359.0) rotate(-90)" text-anchor="end" font-size="12.5" fill="#666" font-weight="bold" stroke="#666" stroke-width="1.2">A12</text>
<text transform="translate(1029.0,1447.0) rotate(-90)" text-anchor="end" font-size="12.5" fill="#666" font-weight="bold" stroke="#666" stroke-width="1.2">A12</text>
<text transform="translate(1029.0,1555.0) rotate(-90)" text-anchor="end" font-size="12.5" fill="#666" font-weight="bold" stroke="#666" stroke-width="1.2">A12</text>
<circle cx="1034.0" cy="1400.0" r="4" fill="#888"/>
<circle cx="1302.0" cy="1282.0" r="4" fill="#333"/>
<circle cx="1302.0" cy="1323.0" r="4" fill="#333"/>
<circle cx="1302.0" cy="1488.0" r="4" fill="#333"/>
<circle cx="1302.0" cy="1528.0" r="4" fill="#333"/>
<text transform="translate(1297.0,1242.0) rotate(-90)" text-anchor="end" font-size="12.5" fill="#666" font-weight="bold" stroke="#666" stroke-width="1.2">A12</text>
<text transform="translate(1297.0,1359.0) rotate(-90)" text-anchor="end" font-size="12.5" fill="#666" font-weight="bold" stroke="#666" stroke-width="1.2">A12</text>
<text transform="translate(1297.0,1447.0) rotate(-90)" text-anchor="end" font-size="12.5" fill="#666" font-weight="bold" stroke="#666" stroke-width="1.2">A12</text>
<text transform="translate(1297.0,1555.0) rotate(-90)" text-anchor="end" font-size="12.5" fill="#666" font-weight="bold" stroke="#666" stroke-width="1.2">A12</text>
<circle cx="1302.0" cy="1400.0" r="4" fill="#888"/>
<circle cx="993.5" cy="1399.0" r="5" fill="#444"/>
<text transform="translate(983.5,1339.0) rotate(-90)" text-anchor="end" font-size="12.5" fill="#666" font-weight="bold" stroke="#666" stroke-width="1.2">ЖЁЛТ</text>
<text transform="translate(983.5,1555.0) rotate(-90)" text-anchor="end" font-size="12.5" fill="#666" font-weight="bold" stroke="#666" stroke-width="1.2">ЖЁЛ</text>
<circle cx="1262.0" cy="1399.0" r="5" fill="#444"/>
<text transform="translate(1252.0,1339.0) rotate(-90)" text-anchor="end" font-size="12.5" fill="#666" font-weight="bold" stroke="#666" stroke-width="1.2">ЖЁЛТ</text>
<text transform="translate(1252.0,1555.0) rotate(-90)" text-anchor="end" font-size="12.5" fill="#666" font-weight="bold" stroke="#666" stroke-width="1.2">ЖЁЛ</text>
</svg>
</div><div id="wash"></div></div>
</body></html>
